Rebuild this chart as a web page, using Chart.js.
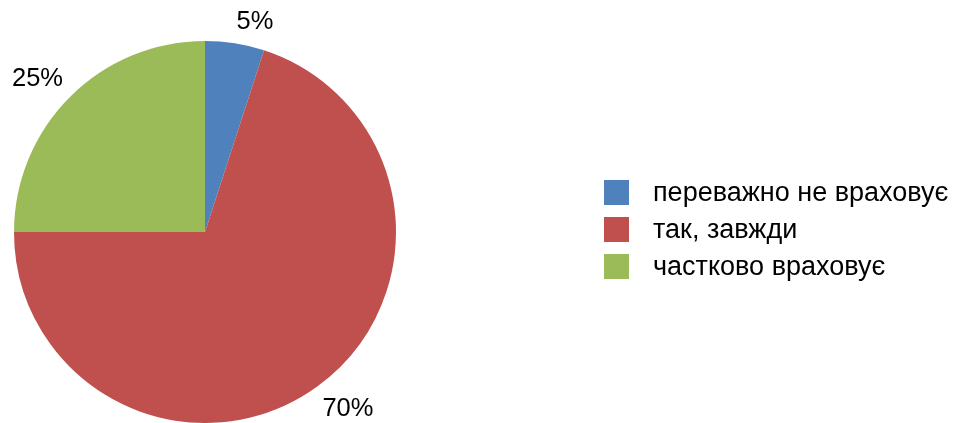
<!DOCTYPE html>
<html>
<head>
<meta charset="utf-8">
<script src="https://cdn.jsdelivr.net/npm/chart.js@4/dist/chart.umd.min.js"></script>
<style>
  html, body { margin: 0; padding: 0; background: #fff; }
  #wrap { width: 954px; height: 423px; position: relative; }
</style>
</head>
<body>
<div id="wrap"><canvas id="pieChart"></canvas></div>
<script>
// Chart data
const categories = ['переважно не враховує', 'так, завжди', 'частково враховує'];
const shares = [5, 70, 25];
const sliceColors = ['#4F81BD', '#C0504D', '#9BBB59'];

const FONT = '"Liberation Sans", Arial, sans-serif';

// Draws percentage labels outside the slices
const outsideLabels = {
  id: 'outsideLabels',
  afterDatasetsDraw(chart, args, opts) {
    const ctx = chart.ctx;
    const meta = chart.getDatasetMeta(0);
    ctx.save();
    ctx.font = opts.size + 'px ' + FONT;
    ctx.fillStyle = '#000';
    ctx.textAlign = 'center';
    ctx.textBaseline = 'middle';
    meta.data.forEach((arc, i) => {
      const mid = (arc.startAngle + arc.endAngle) / 2;
      const r = arc.outerRadius + opts.gap;
      const shift = opts.shift[i] || [0, 0];
      const x = arc.x + Math.cos(mid) * r + shift[0];
      const y = arc.y + Math.sin(mid) * r + shift[1];
      ctx.fillText(chart.data.datasets[0].data[i] + '%', x, y);
    });
    ctx.restore();
  }
};

// Legend on the right, drawn by hand
const sideLegend = {
  id: 'sideLegend',
  afterDraw(chart, args, opts) {
    const ctx = chart.ctx;
    ctx.save();
    ctx.font = opts.size + 'px ' + FONT;
    ctx.textBaseline = 'middle';
    chart.data.labels.forEach((label, i) => {
      const cy = opts.top + i * opts.step;
      ctx.fillStyle = chart.data.datasets[0].backgroundColor[i];
      ctx.fillRect(opts.x, cy - opts.box / 2, opts.box, opts.box);
      ctx.fillStyle = '#000';
      ctx.fillText(label, opts.textX, cy + 1);
    });
    ctx.restore();
  }
};

const pieCtx = document.getElementById('pieChart').getContext('2d');

new Chart(pieCtx, {
  type: 'pie',
  data: {
    labels: categories,
    datasets: [{
      data: shares,
      backgroundColor: sliceColors,
      borderWidth: 0
    }]
  },
  options: {
    responsive: true,
    maintainAspectRatio: false,
    animation: false,
    layout: { padding: { left: 14, top: 41, right: 558, bottom: 0 } },
    plugins: {
      legend: { display: false },
      tooltip: { enabled: false },
      // label nudges follow data order: 5%, 70%, 25%
      outsideLabels: { size: 25.5, gap: 30, shift: [[15.4, 8.5], [13, -1.6], [-11.2, 3]] },
      sideLegend: { x: 604, box: 25, top: 192.5, step: 37, textX: 653, size: 27 }
    }
  },
  plugins: [outsideLabels, sideLegend]
});
</script>
</body>
</html>
